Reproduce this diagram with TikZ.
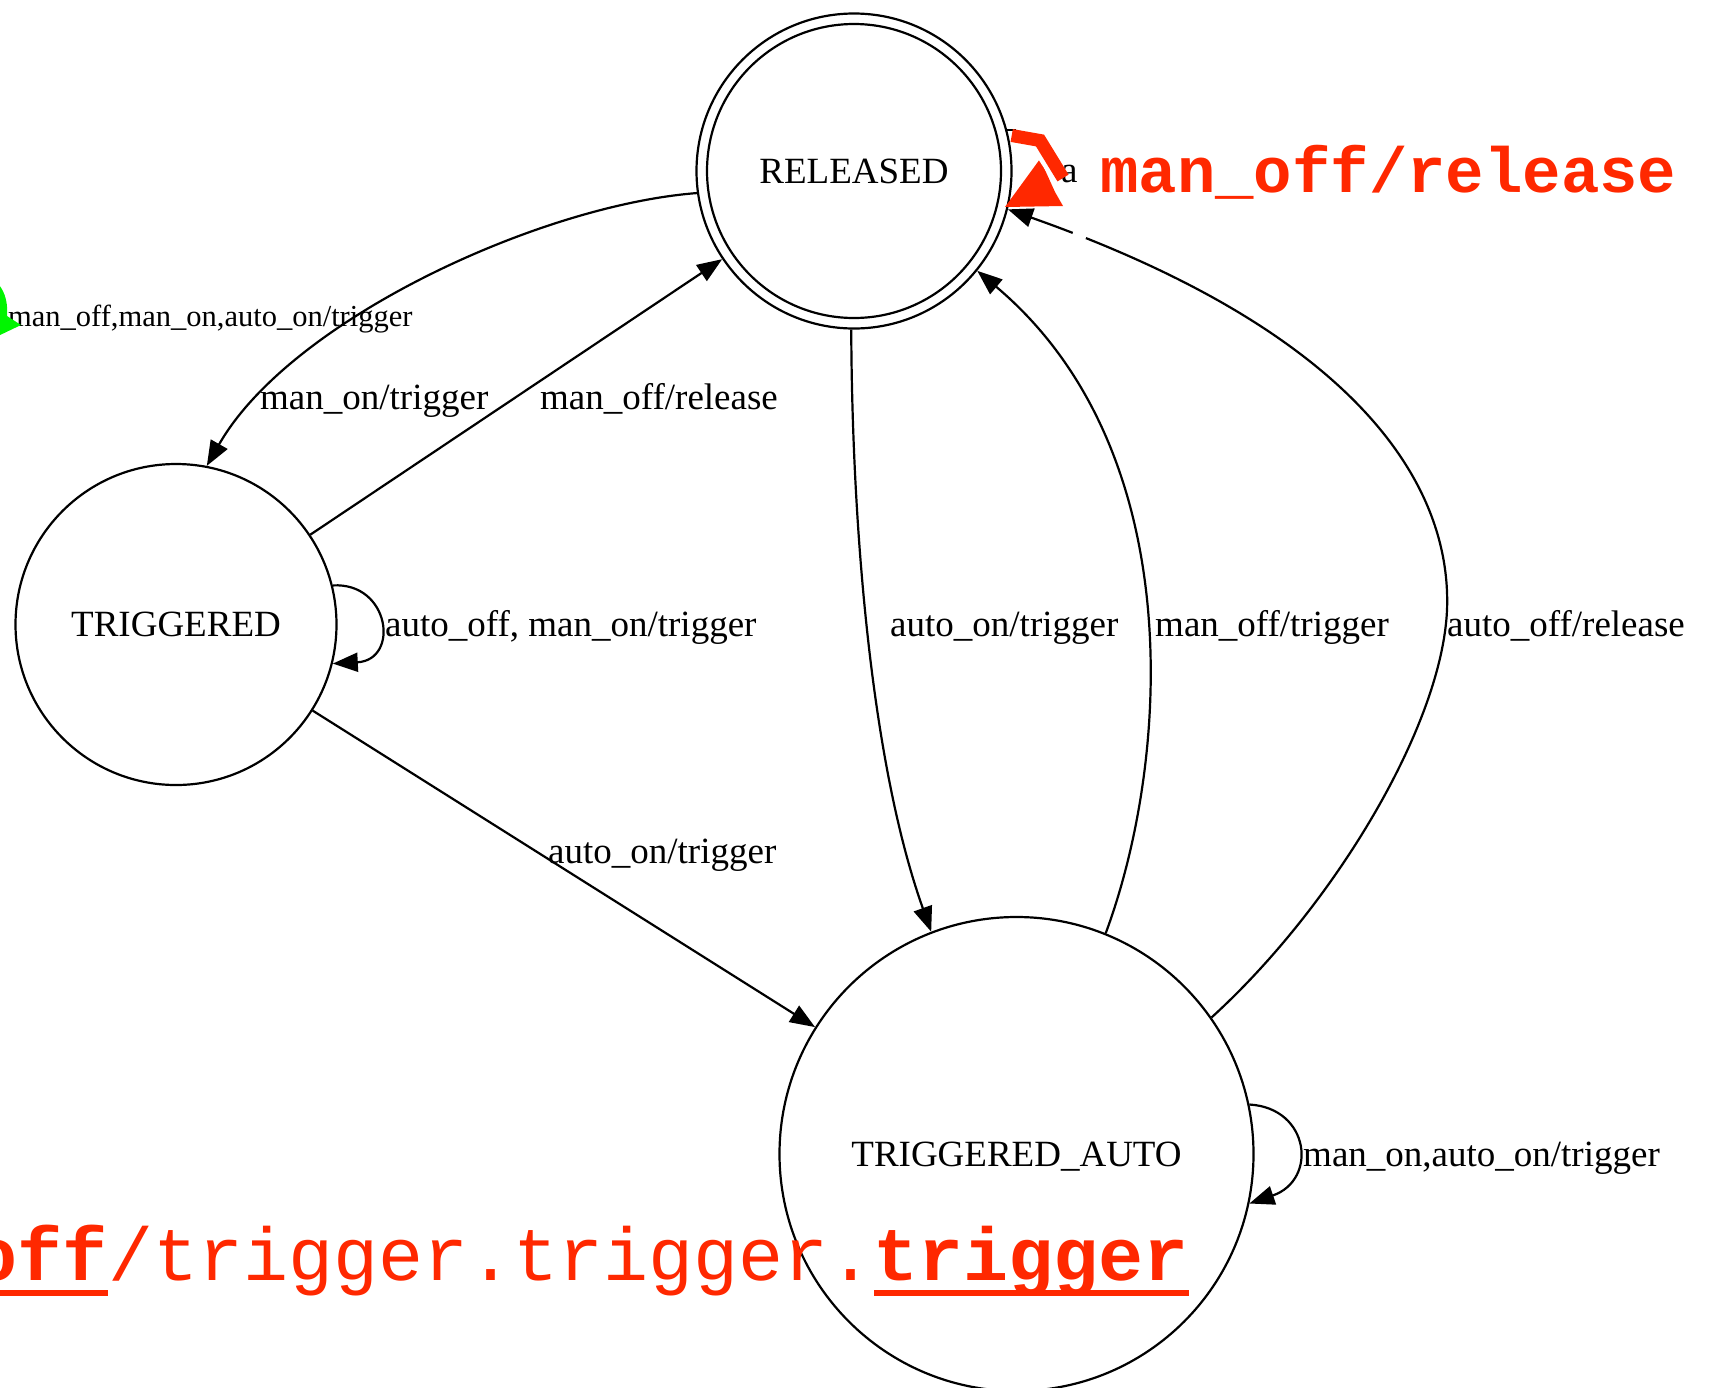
\documentclass[tikz,border=0pt]{standalone}
\usepackage{fontspec}
\setmainfont{Liberation Serif}
\newfontfamily\codefont{Liberation Mono}
\usetikzlibrary{arrows.meta}
\definecolor{alertred}{RGB}{255,40,0}
\definecolor{markgreen}{RGB}{0,245,0}

\begin{document}
\begin{tikzpicture}[x=1pt,y=-1pt,
  state/.style={circle,draw,line width=2.2pt,inner sep=0pt,text depth=0pt,
                font=\fontsize{37}{44}\selectfont},
  edge/.style={line width=2.2pt,-{Triangle[length=25pt,width=19pt]}},
  lbl/.style={anchor=base west,inner sep=0pt,font=\fontsize{37}{44}\selectfont},
  smalllbl/.style={anchor=base west,inner sep=0pt,font=\fontsize{30.5}{36}\selectfont},
  codebold/.style={inner sep=0pt,text=alertred,font=\codefont\bfseries\fontsize{#1}{#1}\selectfont},
  coderegular/.style={inner sep=0pt,text=alertred,font=\codefont\fontsize{#1}{#1}\selectfont}
]
\useasboundingbox (0,0) rectangle (1712,1387);
\clip (0,0) rectangle (1712,1387);

% states
\node[state,minimum size=315pt] (REL) at (854,171) {RELEASED};
\draw[line width=2.2pt] (REL.center) circle[radius=147pt];
\node[state,minimum size=321pt] (TRIG) at (176,624.5) {TRIGGERED};
\node[state,minimum size=474pt] (TA) at (1016.5,1154) {TRIGGERED\_AUTO};

% RELEASED -> TRIGGERED
\draw[edge] (REL.188) .. controls (540,205) and (290,320) .. (TRIG.79);
\node[lbl] (l1) at (260,409) {man\_on/trigger};

% TRIGGERED -> RELEASED
\draw[edge] (TRIG) -- (REL);
\node[lbl] (l2) at (540,409) {man\_off/release};

% TRIGGERED self loop
\draw[edge] (TRIG.14) .. controls (390,582) and (400,660) .. (TRIG.-14.5);
\node[lbl] (l3) at (385,636) {auto\_off, man\_on/trigger};

% TRIGGERED -> TRIGGERED_AUTO
\draw[edge] (TRIG) -- (TA);
\node[lbl] (l4) at (548,863) {auto\_on/trigger};

% RELEASED -> TRIGGERED_AUTO
\draw[edge] (REL.-91) .. controls (852,520) and (870,760) .. (TA.111);
\node[lbl] (l5) at (890,636) {auto\_on/trigger};

% TRIGGERED_AUTO -> RELEASED
\draw[edge] (TA.68) .. controls (1170,760) and (1190,450) .. (REL.-39);
\node[lbl] (l6) at (1155,636) {man\_off/trigger};

% TRIGGERED_AUTO -> RELEASED (outer arc)
\coordinate (bend) at (1447,610);
\draw[edge] (TA.35) .. controls (1335,905) and (1442,725) .. (bend)
            .. controls (1452,480) and (1350,330) .. (REL.-14);
\draw[white,line width=6pt] (1073,232.5) -- (1086,237.5);
\node[lbl] (l7) at (1447,636) {auto\_off/release};

% TRIGGERED_AUTO self loop
\draw[edge] (TA.12) .. controls (1310,1108) and (1318,1180) .. (TA.-12.3);
\node[lbl] (l8) at (1303,1166) {man\_on,auto\_on/trigger};

% entry label at the left edge
\node[smalllbl] (l9) at (8,326) {man\_off,man\_on,auto\_on/trigger};
\fill[markgreen] (-2,284) .. controls (6,292) and (8,306) .. (7,316)
                 -- (21,325) -- (-2,336) -- cycle;

% RELEASED self loop remnants
\node[lbl] (la) at (1061,182) {a};
\draw[line width=2.2pt] (REL.15) -- ++(9,0);
\draw[alertred,line width=13pt,line join=miter] (1011.7,135.5) -- (1040,140.5) -- (1063,178);
\fill[alertred] (1005,207) -- (1040,159) -- (1055,192) -- (1063,206) -- cycle;
\draw[white,line width=2.5pt] (1039,158) -- (1050,175);

% highlighted transition texts
\node[codebold=64,anchor=base west] (t1) at (1100,192) {man\_off/release};

\node[codebold=75,anchor=base east] (b1) at (108,1280) {man\_off};
\node[coderegular=75,anchor=base west] (b2) at (108,1280) {/trigger.trigger.};
\node[codebold=75,anchor=base west] (b3) at (b2.base east) {trigger};
\fill[alertred] ([yshift=-10pt]b1.base west) rectangle ([yshift=-15.5pt]b1.base east);
\fill[alertred] ([yshift=-10pt]b3.base west) rectangle ([yshift=-15.5pt]b3.base east);
\end{tikzpicture}
\end{document}
